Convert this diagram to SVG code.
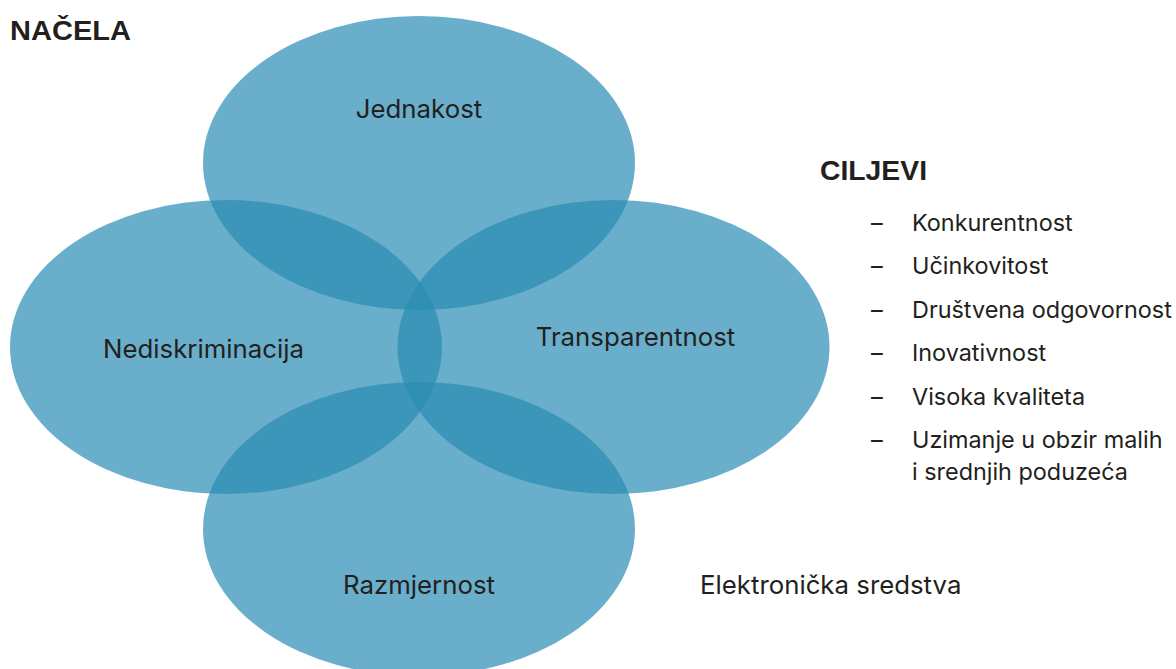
<svg xmlns="http://www.w3.org/2000/svg" width="1176" height="669" viewBox="0 0 1176 669">
<style>
.c{fill:#2a8cb4;fill-opacity:0.7}
.t{font-family:Inter,Roboto,"Liberation Sans",sans-serif;font-size:25.8px;fill:#231f20}
.h{font-family:"Liberation Sans",Arial,sans-serif;font-size:27px;font-weight:bold;fill:#231f20}
.l{font-family:Inter,Roboto,"Liberation Sans",sans-serif;font-size:23.4px;fill:#231f20}
</style>
<rect width="1176" height="669" fill="#fff"/>
<text class="h" x="10" y="40" textLength="121" lengthAdjust="spacingAndGlyphs">NAČELA</text>
<g id="jednakost"><ellipse class="c" cx="419" cy="163" rx="216" ry="147"/></g>
<g id="nediskriminacija"><ellipse class="c" cx="226" cy="347" rx="216" ry="147"/></g>
<g id="transparentnost"><ellipse class="c" cx="613.5" cy="347" rx="216" ry="147"/></g>
<g id="razmjernost"><ellipse class="c" cx="419" cy="529" rx="216" ry="147"/></g>
<g id="connectors"></g>
<g id="labels">
<text class="t" x="419" y="118" text-anchor="middle">Jednakost</text>
<text class="t" x="203.5" y="358" text-anchor="middle">Nediskriminacija</text>
<text class="t" x="635.5" y="346" text-anchor="middle">Transparentnost</text>
<text class="t" x="419" y="594" text-anchor="middle">Razmjernost</text>
<text class="t" x="700" y="594">Elektronička sredstva</text>
</g>
<g id="ciljevi">
<text class="h" x="820" y="180" textLength="107" lengthAdjust="spacingAndGlyphs">CILJEVI</text>
<g class="l">
<text x="871" y="231">–</text><text x="912" y="231">Konkurentnost</text>
<text x="871" y="274">–</text><text x="912" y="274">Učinkovitost</text>
<text x="871" y="318">–</text><text x="912" y="318">Društvena odgovornost</text>
<text x="871" y="361">–</text><text x="912" y="361">Inovativnost</text>
<text x="871" y="405">–</text><text x="912" y="405">Visoka kvaliteta</text>
<text x="871" y="448">–</text><text x="912" y="448">Uzimanje u obzir malih</text>
<text x="912" y="480">i srednjih poduzeća</text>
</g>
</g>
</svg>
